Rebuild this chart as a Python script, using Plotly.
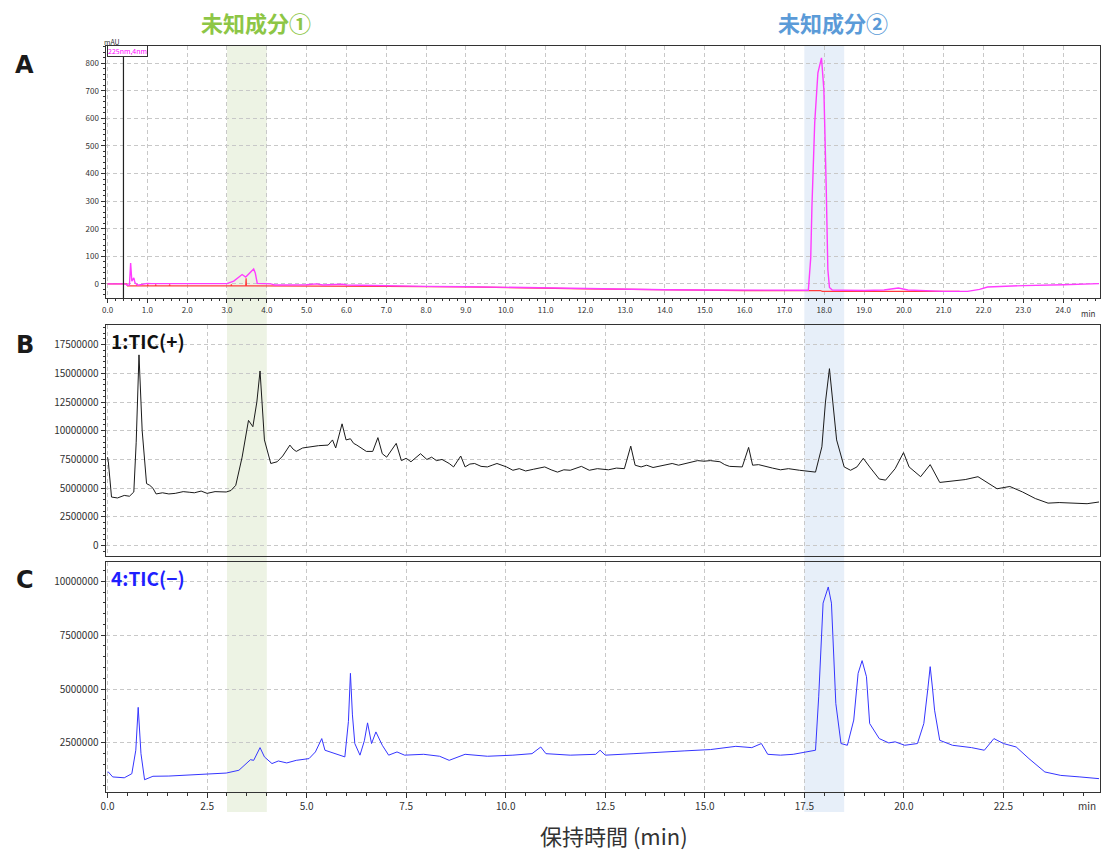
import plotly.graph_objects as go

W, H = 1104, 857

def px(x):
    return x / W

def py(y):
    return 1 - y / H

# ---------------- Data ----------------
# Panel A : UV 225 nm chromatogram (mAU)
uv_time = [0.0, 0.45, 0.5, 0.55, 0.58, 0.61, 0.66, 0.69, 0.76, 0.9, 1.0, 1.1, 2.0, 3.0,
           3.17, 3.38, 3.47, 3.67, 3.71, 3.76, 4.1, 4.2, 5.0, 5.25, 5.4, 5.9, 6.0, 7.0,
           8.0, 9.0, 9.8, 10.0, 10.2, 11.0, 12.0, 13.0, 14.0, 15.0, 16.0, 17.0, 17.6,
           17.66, 17.69, 17.76, 17.84, 17.93, 17.99, 18.05, 18.09, 18.13, 18.2, 18.5,
           19.0, 19.5, 19.86, 20.1, 20.5, 21.0, 21.6, 21.9, 22.1, 22.5, 23.0, 24.0, 24.5, 24.9]
uv_mau = [0, 0, -5, -4, 76, 10, 22, 4, -5, 0, 2, 1, 1, 1,
          10, 34, 25, 54, 40, 2, 0, -4, -3, 0, -4, -1, -4, -7,
          -9, -10, -12, -10, -13, -14, -17, -19, -21, -22, -23, -24, -23,
          95, 280, 584, 765, 819, 704, 341, 52, -13, -22, -23,
          -24, -22, -15, -22, -25, -27, -27, -20, -11, -10, -6, -3, -1, 1]

base_time = [0.0, 0.48, 0.5, 0.74, 0.75, 0.76, 1.0, 1.01, 1.02, 1.2, 1.21, 1.22, 1.55, 1.56,
             1.57, 3.1, 3.11, 3.12, 3.47, 3.48, 3.49, 4.2, 7.0, 9.0, 12.0, 16.0, 17.9,
             17.95, 21.4]
base_mau = [0, 0, -7, -7, -2, -7, -7, -2, -7, -7, -2, -7, -7, -2,
            -7, -7, -2, -7, -7, 20, -7, -7, -9, -11, -18, -24, -24,
            -27, -27]

# Panel B : TIC(+)
tic_pos_time = [0.0, 0.02, 0.1, 0.25, 0.42, 0.55, 0.66, 0.72, 0.79, 0.83, 0.87, 0.98, 1.06,
                1.14, 1.22, 1.38, 1.54, 1.7, 1.9, 2.05, 2.18, 2.35, 2.5, 2.7,
                2.98, 3.1, 3.22, 3.38, 3.54, 3.65, 3.75, 3.83, 3.94, 4.1, 4.26, 4.4, 4.58,
                4.66, 4.74, 4.9, 5.06, 5.3,
                5.54, 5.65, 5.73, 5.89, 5.99, 6.1, 6.18, 6.26, 6.5, 6.66, 6.79, 6.9, 7.01, 7.14,
                7.25, 7.38, 7.5, 7.62, 7.86, 8.02, 8.14, 8.26, 8.4, 8.58, 8.69, 8.87, 8.98,
                9.1, 9.22, 9.38, 9.54, 9.66, 9.78,
                10.02, 10.18, 10.34, 10.5, 10.7, 10.98, 11.14, 11.3, 11.46, 11.62, 11.9,
                12.1, 12.3, 12.58, 12.78, 12.98, 13.14,
                13.25, 13.4, 13.54, 13.7, 13.86, 14.02, 14.18, 14.34, 14.5, 14.66, 14.82,
                14.98, 15.14, 15.38, 15.5, 15.62, 15.94, 16.1,
                16.2, 16.35, 16.5, 16.7, 16.9, 17.1, 17.38, 17.6, 17.78, 17.94, 18.03,
                18.13, 18.22, 18.31, 18.5, 18.66, 18.82,
                18.98, 19.14, 19.38, 19.54, 19.78, 19.99, 20.13, 20.42, 20.66, 20.9, 21.22,
                21.54, 21.86, 22.1, 22.34, 22.66, 22.98, 23.3, 23.62, 23.9, 24.26, 24.6, 24.9]
tic_pos_val = [7700000, 7300000, 4230000, 4150000, 4370000, 4300000, 4670000, 9000000,
               16600000, 13000000, 10000000, 5400000, 5250000,
               5000000, 4500000, 4600000, 4500000, 4550000, 4700000, 4650000, 4600000,
               4750000, 4550000, 4700000,
               4670000, 4800000, 5250000, 7700000, 10900000, 10350000, 12500000, 15200000,
               9200000, 7150000, 7300000, 7800000, 8750000,
               8400000, 8200000, 8500000, 8600000, 8700000,
               8750000, 9200000, 8500000, 10600000, 9200000, 9300000, 8900000, 8750000,
               8200000, 8200000, 9400000, 8000000, 7700000, 8300000,
               8900000, 7400000, 7600000, 7300000, 8000000, 7500000, 7700000, 7400000,
               7500000, 7150000, 6850000, 7800000, 6850000,
               7100000, 7150000, 6900000, 6850000, 7000000, 7150000,
               6850000, 6560000, 6700000, 6500000, 6650000, 6850000, 6600000, 6400000,
               6600000, 6560000, 6900000,
               6560000, 6700000, 6600000, 6750000, 6700000, 8660000,
               7000000, 6850000, 7000000, 6800000, 6900000, 7050000, 7150000, 7000000,
               7150000, 7300000, 7400000,
               7350000, 7400000, 7300000, 7050000, 6900000, 6850000, 8550000,
               7000000, 7050000, 6900000, 6750000, 6600000, 6700000, 6560000, 6500000,
               6400000, 8600000, 12500000,
               15400000, 12000000, 9200000, 6850000, 6560000, 6850000,
               7600000, 6850000, 5800000, 5700000, 6700000, 8100000, 6850000, 6000000,
               7050000, 5500000, 5600000,
               5750000, 6000000, 5500000, 4950000, 5150000, 4670000, 4100000, 3700000,
               3750000, 3700000, 3650000, 3800000]

# Panel C : TIC(-)
tic_neg_time = [0.0, 0.02, 0.13, 0.42, 0.61, 0.71, 0.77, 0.84, 0.93, 1.14, 1.54, 2.02, 2.5,
                2.98, 3.3, 3.59, 3.67, 3.83, 3.94, 4.13, 4.29, 4.5, 4.74, 5.06, 5.22, 5.38,
                5.46, 5.7, 5.96, 6.05, 6.1, 6.15, 6.21, 6.34, 6.45, 6.53, 6.63, 6.74, 6.9,
                7.06, 7.27, 7.46,
                7.94, 8.34, 8.58, 8.98, 9.54, 10.18, 10.66, 10.88, 11.01, 11.62, 12.26,
                12.37, 12.5, 13.22, 13.86, 14.5, 15.14, 15.78, 16.18, 16.42, 16.58, 16.9,
                17.22, 17.54, 17.78, 17.86, 17.97, 18.1, 18.18, 18.29, 18.42, 18.58, 18.74,
                18.85, 18.95, 19.06, 19.14, 19.38, 19.62, 19.78, 20.02, 20.34, 20.5, 20.6,
                20.66, 20.72, 20.77, 20.9, 21.22, 21.7, 22.02, 22.26, 22.5, 22.82, 23.14,
                23.54, 23.94, 24.42, 24.9]
tic_neg_val = [1150000, 1150000, 920000, 880000, 1070000, 2160000, 4150000, 2000000, 790000,
               950000, 960000, 1000000, 1040000,
               1100000, 1230000, 1720000, 1690000, 2280000, 1850000, 1540000, 1660000,
               1570000, 1690000, 1770000, 2080000, 2700000,
               2160000, 2000000, 1850000, 3500000, 5730000, 3800000, 2470000, 1930000,
               2600000, 3430000, 2470000, 3010000, 2390000,
               1930000, 2080000, 1930000,
               1970000, 1880000, 1690000, 1970000, 1880000, 1930000, 2000000, 2310000,
               2000000, 1930000, 1970000,
               2160000, 1930000, 2000000, 2080000, 2130000, 2190000, 2340000, 2280000,
               2470000, 1970000, 1930000,
               1970000, 2080000, 2160000, 4640000, 8990000, 9740000, 8990000, 4330000,
               2470000, 2390000, 3560000,
               5730000, 6320000, 5570000, 3400000, 2700000, 2500000, 2550000, 2390000,
               2470000, 3400000, 5000000,
               6040000, 5000000, 4020000, 2620000, 2390000, 2280000, 2160000, 2700000,
               2470000, 2310000, 1770000,
               1150000, 990000, 920000, 840000]

# Highlighted regions (min)
band1 = [3.0, 4.0]
band2 = [17.5, 18.5]

X_RANGE = [-0.05, 24.925]

# ---------------- Figure ----------------
fig = go.Figure()

fig.add_trace(go.Scatter(x=base_time, y=base_mau, mode="lines",
                         line=dict(color="#ff3b3b", width=1.2), xaxis="x", yaxis="y",
                         showlegend=False))
fig.add_trace(go.Scatter(x=uv_time, y=uv_mau, mode="lines",
                         line=dict(color="#ff3cff", width=1.4), xaxis="x", yaxis="y",
                         showlegend=False))
fig.add_trace(go.Scatter(x=tic_pos_time, y=tic_pos_val, mode="lines",
                         line=dict(color="#1a1a1a", width=1), xaxis="x2", yaxis="y2",
                         showlegend=False))
fig.add_trace(go.Scatter(x=tic_neg_time, y=tic_neg_val, mode="lines",
                         line=dict(color="#3535ff", width=1), xaxis="x3", yaxis="y3",
                         showlegend=False))

grid = dict(showgrid=True, gridcolor="#c8c8c8", griddash="4px,3px", gridwidth=1,
            zeroline=False, showline=True, mirror=True, linecolor="#333333", linewidth=1)
tickfont_small = dict(family="Noto Sans CJK JP", size=8, color="#333333")
tickfont_mid = dict(family="Noto Sans CJK JP", size=10, color="#333333")

domx = [px(101), px(1100)]

fig.update_layout(
    width=W, height=H,
    margin=dict(l=0, r=0, t=0, b=0),
    paper_bgcolor="white",
    plot_bgcolor="rgba(0,0,0,0)",
    showlegend=False,
    xaxis=dict(domain=domx, anchor="y", range=X_RANGE, tickmode="linear", tick0=0, dtick=1,
               tickformat=".1f", ticks="outside", ticklen=4, tickcolor="#333333",
               tickfont=tickfont_small,
               minor=dict(dtick=0.2, tick0=0, ticks="outside", ticklen=2, showgrid=False,
                          tickcolor="#333333"),
               **grid),
    yaxis=dict(domain=[py(298), py(46)], anchor="x", range=[-51, 862], tickmode="linear",
               tick0=0, dtick=100, ticks="outside", ticklen=4, tickcolor="#333333",
               tickfont=tickfont_small,
               minor=dict(dtick=20, tick0=0, ticks="outside", ticklen=2, showgrid=False,
                          tickcolor="#333333"),
               **grid),
    xaxis2=dict(domain=domx, anchor="y2", range=X_RANGE, tickmode="linear", tick0=0,
                dtick=2.5, showticklabels=False, ticks="", **grid),
    yaxis2=dict(domain=[py(556), py(325)], anchor="x2", range=[-900000, 19200000],
                tickmode="linear", tick0=0, dtick=2500000, tickformat="d", ticks="outside",
                ticklen=4, tickcolor="#333333", tickfont=tickfont_mid,
                minor=dict(dtick=500000, tick0=0, ticks="outside", ticklen=2,
                           showgrid=False, tickcolor="#333333"),
                **grid),
    xaxis3=dict(domain=domx, anchor="y3", range=X_RANGE, tickmode="linear", tick0=0,
                dtick=2.5, tickformat=".1f", ticks="outside", ticklen=5,
                tickcolor="#333333", tickfont=tickfont_mid,
                minor=dict(dtick=0.5, tick0=0, ticks="outside", ticklen=3, showgrid=False,
                           tickcolor="#333333"),
                **grid),
    yaxis3=dict(domain=[py(792), py(562)], anchor="x3", range=[220000, 10900000],
                tickmode="linear", tick0=0, dtick=2500000, tickformat="d", ticks="outside",
                ticklen=4, tickcolor="#333333", tickfont=tickfont_mid,
                minor=dict(dtick=500000, tick0=0, ticks="outside", ticklen=2,
                           showgrid=False, tickcolor="#333333"),
                **grid),
)

# Highlight bands spanning all panels
for (b0, b1), col in [(band1, "rgba(214,228,196,0.45)"), (band2, "rgba(208,224,244,0.5)")]:
    fig.add_shape(type="rect", xref="x3", yref="paper", x0=b0, x1=b1,
                  y0=py(812), y1=py(46), fillcolor=col, line=dict(width=0), layer="below")

# Injection marker line in panel A
fig.add_shape(type="line", xref="x", yref="y domain", x0=0.4, x1=0.4, y0=0, y1=1,
              line=dict(color="#222222", width=1.2))

ann = []
for lab, y in [("A", 65), ("B", 345), ("C", 580)]:
    ann.append(dict(text="<b>" + lab + "</b>", x=px(20), y=py(y), xref="paper", yref="paper",
                    showarrow=False, xanchor="center", yanchor="middle",
                    font=dict(family="DejaVu Sans", size=24, color="#1a1a1a"),
                    ))
ann += [
    dict(text="<b>未知成分①</b>", x=px(252), y=py(22), xref="paper", yref="paper",
         showarrow=False, xanchor="center", yanchor="middle",
         font=dict(family="Noto Sans CJK JP", size=22, color="#8dc646")),
    dict(text="<b>未知成分②</b>", x=px(832), y=py(22), xref="paper", yref="paper",
         showarrow=False, xanchor="center", yanchor="middle",
         font=dict(family="Noto Sans CJK JP", size=22, color="#5b9bd8")),
    dict(text="<b>1:TIC(+)</b>", x=px(104), y=py(340), xref="paper", yref="paper",
         showarrow=False, xanchor="left", yanchor="middle",
         font=dict(family="Noto Sans CJK JP", size=19, color="#111111")),
    dict(text="<b>4:TIC(−)</b>", x=px(104), y=py(577), xref="paper", yref="paper",
         showarrow=False, xanchor="left", yanchor="middle",
         font=dict(family="Noto Sans CJK JP", size=19, color="#1f1fff")),
    dict(text="保持時間 (min)", x=px(612), y=py(835), xref="paper", yref="paper",
         showarrow=False, xanchor="center", yanchor="middle",
         font=dict(family="Noto Sans CJK JP", size=22, color="#333333")),
    dict(text="mAU", x=px(97), y=py(42), xref="paper", yref="paper",
         showarrow=False, xanchor="left", yanchor="middle",
         font=dict(family="Noto Sans CJK JP", size=7, color="#333333")),
    dict(text="225nm,4nm", x=px(102), y=py(51), xref="paper", yref="paper",
         showarrow=False, xanchor="left", yanchor="middle", bgcolor="white",
         bordercolor="#333333", borderwidth=1, borderpad=0,
         font=dict(family="Noto Sans CJK JP", size=7, color="#ff00ff")),
    dict(text="min", x=px(1098), y=py(313), xref="paper", yref="paper",
         showarrow=False, xanchor="right", yanchor="middle",
         font=dict(family="Noto Sans CJK JP", size=8, color="#333333")),
    dict(text="min", x=px(1098), y=py(805), xref="paper", yref="paper",
         showarrow=False, xanchor="right", yanchor="middle",
         font=dict(family="Noto Sans CJK JP", size=10, color="#333333")),
]
fig.update_layout(annotations=ann)

fig.write_html("out.html", config={"displayModeBar": False},
               post_script="document.body.style.margin='0';document.body.style.padding='0';")
